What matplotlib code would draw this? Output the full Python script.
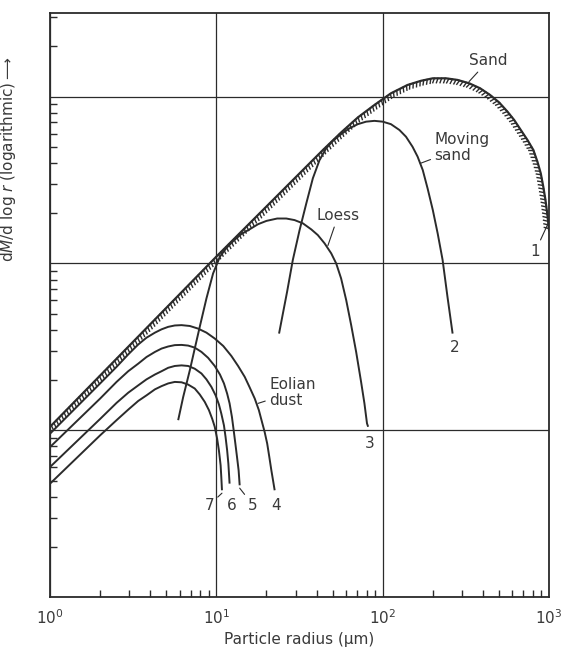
#  Mass distribution of sand, loess and eolian dust vs particle radius
#  (log-log, values)

import matplotlib.pyplot as plt
import matplotlib.patheffects as pe
from matplotlib.ticker import LogLocator, NullFormatter

# Step 1: Data (radius in um, dM/dlog r in relative units)

# 1 - Sand
sand_r = [1.0, 10, 43.7, 56.2, 70.8, 89.1, 112, 141, 170, 200, 240, 282, 331,
          385, 442, 501, 562, 617, 676, 741, 804, 851, 891, 923, 951, 977, 1000]
sand_m = [10.5, 110, 479, 610, 750, 891, 1047, 1175, 1245, 1288, 1288, 1259, 1202,
          1122, 1023, 923, 813, 724, 631, 550, 479, 407, 347, 288, 240, 195, 158]

# 2 - Moving sand
moving_r = [23.8, 25.1, 26.6, 28.8, 31.6, 34.7, 38.0, 41.7, 45.7, 50.1, 56.2, 63.1,
            70.8, 79.4, 89.1, 100, 112, 126, 138, 151, 162, 174, 186, 200, 214,
            229, 245, 263]
moving_m = [38.0, 50.1, 67.6, 105, 158, 229, 324, 417, 490, 543, 596, 646,
            684, 708, 716, 708, 684, 631, 575, 501, 437, 363, 282, 209, 151,
            105, 63.1, 38.0]

# 3 - Loess
loess_r = [5.89, 6.31, 6.92, 7.41, 7.94, 8.71, 9.55, 10.5, 11.5, 12.6, 14.1, 15.8,
           17.8, 20.0, 23.2, 26.3, 29.5, 33.1, 37.2, 40.7, 44.7, 49.0, 52.5, 56.2,
           60.3, 64.6, 69.2, 74.1, 77.6, 80.4, 81.7]
loess_m = [11.5, 15.8, 22.9, 30.9, 41.7, 61.7, 87.1, 110, 124, 136, 150, 160,
           172, 180, 186, 186, 182, 174, 160, 148, 132, 115, 100, 81.3,
           60.3, 42.7, 29.5, 19.5, 14.5, 11.0, 10.5]

# 4..7 - Eolian dust
dust4_r = [1.0, 2.0, 2.51, 2.95, 3.39, 3.80, 4.27, 4.68, 5.13, 5.62, 6.17, 6.92,
           7.76, 8.71, 9.77, 11.0, 12.3, 13.5, 14.8, 15.8, 17.0, 18.0, 18.8, 19.5,
           20.2, 20.8, 21.4, 21.9, 22.4]
dust4_m = [9.55, 19.1, 24.0, 28.5, 32.7, 35.9, 38.5, 40.3, 41.7, 42.5, 42.7, 42.2,
           40.7, 38.5, 35.5, 32.0, 27.9, 24.3, 20.9, 18.2, 15.5, 13.2, 11.2, 9.77,
           8.32, 6.92, 5.75, 5.01, 4.37]

dust5_r = [1.0, 2.0, 2.51, 2.95, 3.39, 3.80, 4.27, 4.68, 5.13, 5.62, 6.17, 6.76,
           7.41, 8.13, 8.91, 9.77, 10.5, 11.1, 11.6, 12.0, 12.4, 12.7, 13.0, 13.3,
           13.6, 13.8]
dust5_m = [7.94, 15.5, 19.5, 22.6, 25.1, 27.5, 29.5, 30.9, 31.8, 32.4, 32.5, 32.2,
           31.3, 29.5, 27.2, 24.3, 21.6, 19.1, 16.6, 14.5, 12.0, 10.0, 8.32, 6.92,
           5.75, 4.68]

dust6_r = [1.0, 2.0, 2.51, 2.95, 3.39, 3.80, 4.27, 4.68, 5.13, 5.62, 6.17, 6.76,
           7.41, 8.13, 8.71, 9.33, 9.89, 10.35, 10.7, 11.1, 11.35, 11.6, 11.8, 11.9,
           12.0]
dust6_m = [6.03, 11.7, 14.6, 16.8, 18.6, 20.2, 21.6, 22.6, 23.7, 24.3, 24.5, 24.3,
           23.4, 21.9, 20.2, 18.2, 16.2, 14.3, 12.6, 10.7, 9.12, 7.59, 6.31, 5.50,
           4.79]

dust7_r = [1.0, 2.0, 2.51, 2.95, 3.39, 3.80, 4.27, 4.68, 5.13, 5.62, 6.17, 6.76,
           7.41, 7.94, 8.51, 9.02, 9.44, 9.77, 10.1, 10.35, 10.6, 10.7, 10.8]
dust7_m = [4.79, 9.33, 11.5, 13.3, 15.0, 16.2, 17.6, 18.4, 19.1, 19.5, 19.4, 18.8,
           17.8, 16.4, 14.8, 13.2, 11.7, 10.5, 8.91, 7.59, 6.17, 5.25, 4.37]

ink = "#2b2b2b"

# Step 2: Figure and axes

fig = plt.figure(figsize=(5.69, 6.62), dpi=100)
ax = fig.add_axes([0.088, 0.098, 0.877, 0.882])
ax.set_xscale("log")
ax.set_yscale("log")
ax.set_xlim(1, 1000)
ax.set_ylim(1, 10 ** 3.5)

# Step 3: Curves

ax.plot(sand_r, sand_m, color=ink, lw=1.6, solid_joinstyle="round",
        path_effects=[pe.withTickedStroke(spacing=2.6, angle=-110, length=1.3,
                                          linewidth=1.0)])
for r, m in [(moving_r, moving_m), (loess_r, loess_m), (dust4_r, dust4_m),
             (dust5_r, dust5_m), (dust6_r, dust6_m), (dust7_r, dust7_m)]:
    ax.plot(r, m, color=ink, lw=1.4, solid_capstyle="butt", solid_joinstyle="round")

# Step 4: Labels on the curves

txt = dict(fontsize=11, color="#3a3a3a")
lead = dict(arrowstyle="-", color=ink, lw=0.8, shrinkA=1, shrinkB=0)

ax.annotate("Sand", xy=(330, 1230), xytext=(430, 1640), ha="center", va="center",
            arrowprops=lead, **txt)
ax.annotate("Moving\nsand", xy=(168, 398), xytext=(205, 495), ha="left",
            va="center", linespacing=1.05, arrowprops=lead, **txt)
ax.annotate("Loess", xy=(46.8, 128), xytext=(54, 194), ha="center", va="center",
            arrowprops=lead, **txt)
ax.annotate("Eolian\ndust", xy=(17.8, 14.5), xytext=(20.8, 16.9), ha="left",
            va="center", linespacing=1.05, arrowprops=lead, **txt)
ax.annotate("1", xy=(990, 175), xytext=(825, 118), ha="center", va="center",
            arrowprops=lead, **txt)
ax.text(269, 31.4, "2", ha="center", va="center", **txt)
ax.text(84, 8.36, "3", ha="center", va="center", **txt)
ax.text(22.9, 3.56, "4", ha="center", va="center", **txt)
ax.annotate("5", xy=(13.8, 4.5), xytext=(16.6, 3.56), ha="center", va="center",
            arrowprops=lead, **txt)
ax.text(12.4, 3.56, "6", ha="center", va="center", **txt)
ax.annotate("7", xy=(10.8, 4.2), xytext=(9.04, 3.56), ha="center", va="center",
            arrowprops=lead, **txt)

# Step 5: Grid, ticks and axis labels

ax.grid(True, which="major", color=ink, lw=0.9)
for s in ax.spines.values():
    s.set_color(ink)
    s.set_linewidth(1.3)

ax.xaxis.set_minor_locator(LogLocator(base=10, subs=range(2, 10)))
ax.xaxis.set_minor_formatter(NullFormatter())
ax.yaxis.set_minor_locator(LogLocator(base=10, subs=range(2, 10)))
ax.yaxis.set_minor_formatter(NullFormatter())
ax.tick_params(which="major", length=0, labelsize=11, labelcolor="#3a3a3a", pad=8)
ax.tick_params(which="minor", direction="in", length=5, width=1.0, color=ink)
ax.tick_params(axis="y", which="both", labelleft=False)

ax.set_xlabel("Particle radius (\u00b5m)", fontsize=11, color="#3a3a3a", labelpad=4)
ax.set_ylabel("d$\\it{M}$/d log $\\it{r}$ (logarithmic)$\\longrightarrow$",
              fontsize=11, color="#3a3a3a")
ax.yaxis.set_label_coords(-0.065, 0.75)

fig.savefig("out.png", dpi=100, facecolor="white")
